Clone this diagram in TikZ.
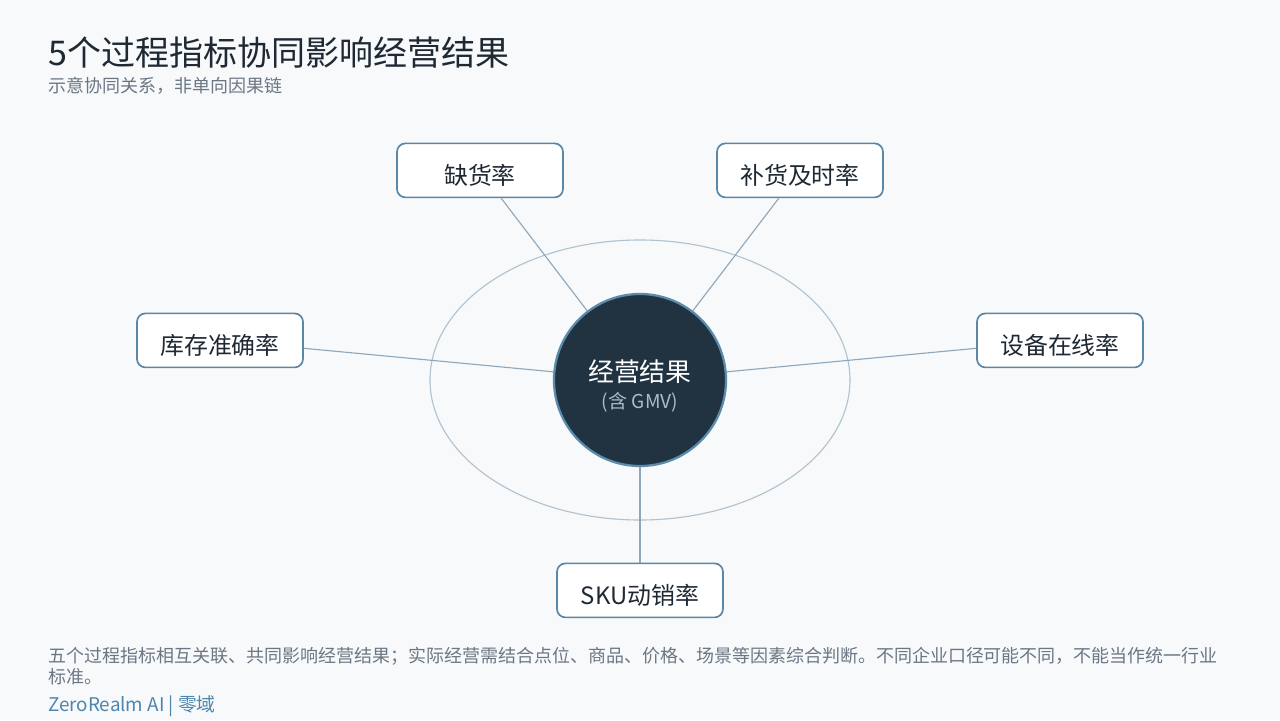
\documentclass[tikz,border=0pt]{standalone}
\usepackage{fontspec}
\usepackage{xcolor}
\setmainfont{Noto Sans CJK SC}
\definecolor{pagebg}{HTML}{F7F9FB}
\definecolor{titleink}{HTML}{1F2933}
\definecolor{mutedink}{HTML}{6B7785}
\definecolor{boxedge}{HTML}{5A87A6}
\definecolor{hubfill}{HTML}{213340}
\definecolor{hubedge}{HTML}{5B8BAA}
\definecolor{ringline}{HTML}{AFC3D1}
\definecolor{linkline}{HTML}{8FA7BA}
\definecolor{brandblue}{HTML}{4D86AD}
\definecolor{gmvink}{HTML}{A8BDCC}

\begin{document}
\begin{tikzpicture}[
  metric/.style={draw=boxedge, line width=1.2pt, rectangle, rounded corners=6pt, fill=white,
    minimum width=4.15cm, minimum height=1.35cm, text height=0.85cm, text depth=0.14cm,
    text=titleink, font=\fontsize{17}{20}\selectfont},
  link/.style={draw=linkline, line width=0.8pt}
]
  \fill[pagebg] (-16,-9) rectangle (16,9);

  % title
  \node[anchor=west, inner sep=0, text=titleink, font=\fontsize{24.2}{28}\selectfont] (title) at (-14.8,7.68) {5个过程指标协同影响经营结果};
  \node[anchor=west, inner sep=0, text=mutedink, font=\fontsize{12.8}{15}\selectfont] (subtitle) at (-14.8,6.85) {示意协同关系，非单向因果链};

  % ring behind the hub
  \draw[ringline, line width=0.8pt] (0,-0.5) ellipse (5.25 and 3.5);

  % hub
  \node[draw=hubedge, line width=1.6pt, circle, fill=hubfill, minimum size=4.3cm] (hub) at (0,-0.5) {};
  \node[text=white, font=\fontsize{18.4}{22}\selectfont] (hubtitle) at (0,-0.3) {经营结果};
  \node[text=gmvink, font=\fontsize{13.6}{16}\selectfont] (hubnote) at (0,-1.07) {(含 GMV)};

  % metrics
  \node[metric] (stockout) at (-4,4.74) {缺货率};
  \node[metric] (refill) at (4,4.74) {补货及时率};
  \node[metric] (accuracy) at (-10.5,0.49) {库存准确率};
  \node[metric] (online) at (10.5,0.49) {设备在线率};
  \node[metric] (sku) at (0,-5.76) {SKU动销率};

  \draw[link] (hub) -- (stockout);
  \draw[link] (hub) -- (refill);
  \draw[link] (hub) -- (accuracy);
  \draw[link] (hub) -- (online);
  \draw[link] (hub) -- (sku);

  % footer
  \node[anchor=west, inner sep=0, align=left, text=mutedink, font=\fontsize{12.8}{14.9}\selectfont] (note) at (-14.8,-7.66)
    {五个过程指标相互关联、共同影响经营结果；实际经营需结合点位、商品、价格、场景等因素综合判断。不同企业口径可能不同，不能当作统一行业\\标准。};
  \node[anchor=west, inner sep=0, text=brandblue, font=\fontsize{13.4}{15}\selectfont] (brand) at (-14.8,-8.65) {ZeroRealm AI | 零域};
\end{tikzpicture}
\end{document}
